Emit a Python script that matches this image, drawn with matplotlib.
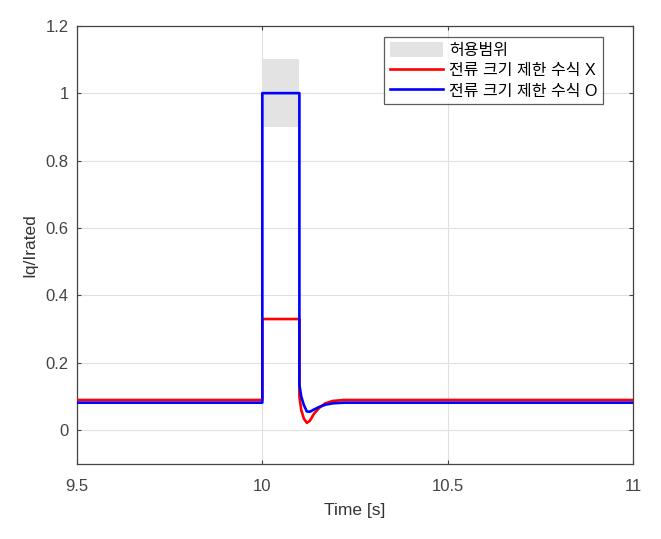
import matplotlib.pyplot as plt
from matplotlib.patches import Patch

plt.rcParams['font.family'] = ['Liberation Sans', 'Noto Sans CJK KR', 'DejaVu Sans']

# red: without current magnitude limit
t_red = [9.5, 10.0, 10.0, 10.1, 10.1, 10.105, 10.112, 10.12, 10.128, 10.14, 10.155, 10.17, 10.19, 10.22, 11.0]
iq_red = [0.09, 0.09, 0.33, 0.33, 0.10, 0.06, 0.035, 0.022, 0.028, 0.05, 0.068, 0.08, 0.087, 0.09, 0.09]

# blue: with current magnitude limit
t_blue = [9.5, 10.0, 10.0, 10.1, 10.1, 10.105, 10.112, 10.12, 10.128, 10.14, 10.155, 10.17, 10.19, 10.22, 11.0]
iq_blue = [0.082, 0.082, 1.0, 1.0, 0.135, 0.10, 0.075, 0.056, 0.055, 0.062, 0.07, 0.076, 0.08, 0.082, 0.082]

# allowed band
band_t = [10.0, 10.1]
band_lo = 0.9
band_hi = 1.1

fig = plt.figure(figsize=(6.61, 5.39), dpi=100)
ax = fig.add_axes([0.1165, 0.1391, 0.8411, 0.8132])

ax.fill_between(band_t, band_lo, band_hi, color='#e3e3e3', linewidth=0, zorder=1)
ax.plot(t_red, iq_red, color='#ff0000', lw=1.9, zorder=3)
ax.plot(t_blue, iq_blue, color='#0000ff', lw=1.9, zorder=4)

ax.set_xlim(9.5, 11)
ax.set_ylim(-0.1, 1.2)
ax.set_xticks([9.5, 10, 10.5, 11])
ax.set_xticklabels(['9.5', '10', '10.5', '11'])
ax.set_yticks([0, 0.2, 0.4, 0.6, 0.8, 1.0, 1.2])
ax.set_yticklabels(['0', '0.2', '0.4', '0.6', '0.8', '1', '1.2'])
ax.grid(True, color='#e0e0e0', lw=0.8)
ax.set_axisbelow(True)
ax.tick_params(direction='in', labelsize=12, colors='#444444', length=3, top=True, right=True)
ax.tick_params(axis='x', pad=11)
ax.tick_params(axis='y', pad=6)
ax.tick_params(labeltop=False, labelright=False)
for s in ax.spines.values():
    s.set_color('#444444')
    s.set_linewidth(0.9)

ax.set_xlabel('Time [s]', fontsize=12.5, color='#333333', labelpad=6)
ax.set_ylabel('Iq/Irated', fontsize=12.5, color='#333333', labelpad=6)

handles = [Patch(facecolor='#e3e3e3', edgecolor='none'),
           plt.Line2D([], [], color='#ff0000', lw=1.9),
           plt.Line2D([], [], color='#0000ff', lw=1.9)]
labels = ['허용범위', '전류 크기 제한 수식 X', '전류 크기 제한 수식 O']
leg = ax.legend(handles, labels, loc='upper right', bbox_to_anchor=(0.946, 0.975),
                fontsize=11.5, frameon=True, fancybox=False, edgecolor='#333333',
                handlelength=3.3, borderaxespad=0, borderpad=0.35, labelspacing=0.3,
                handletextpad=0.4, handleheight=1.0)
leg.get_frame().set_linewidth(0.9)

fig.savefig('out.png', dpi=100)
